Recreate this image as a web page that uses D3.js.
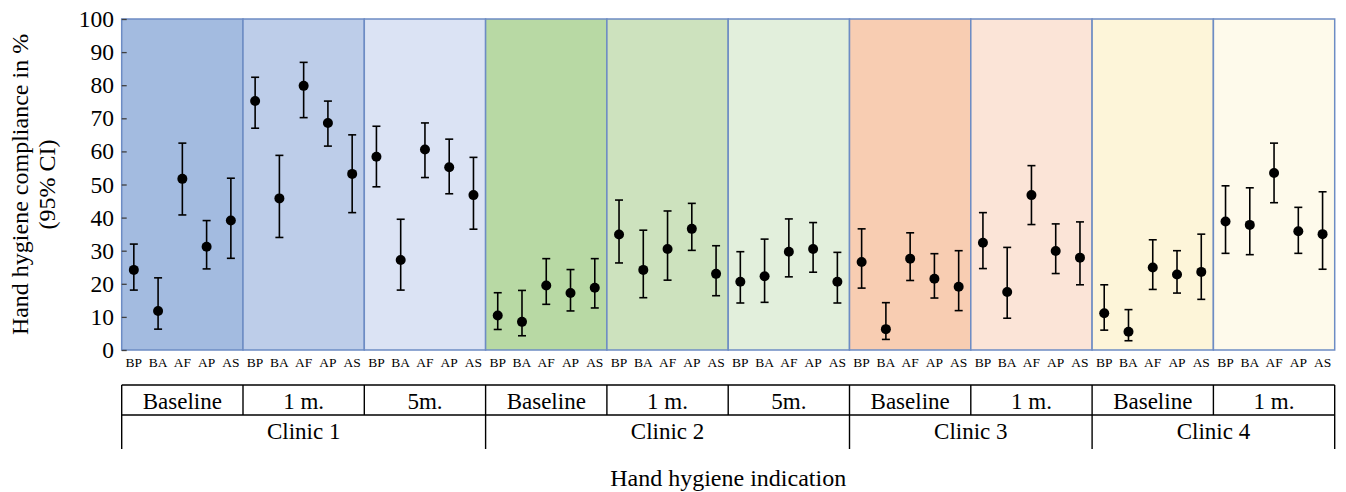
<!DOCTYPE html>
<html>
<head>
<meta charset="utf-8">
<script src="https://cdn.jsdelivr.net/npm/d3@7"></script>
<style>
  html, body { margin: 0; padding: 0; background: #fff; }
  svg { display: block; }
  text { font-family: "Liberation Serif", "Times New Roman", serif; fill: #000; }
</style>
</head>
<body>
<svg id="chart" width="1346" height="492"></svg>
<script>
// ---- data ----
const indications = ["BP", "BA", "AF", "AP", "AS"];
const periods = ["Baseline", "1 m.", "5m.", "Baseline", "1 m.", "5m.", "Baseline", "1 m.", "Baseline", "1 m."];
const clinics = ["Clinic 1", "Clinic 2", "Clinic 3", "Clinic 4"];
const periodsPerClinic = [3, 3, 2, 2];
const panelColors = ["#a3bbe0", "#bdcde9", "#dbe3f4", "#b8d9a4", "#cde2be", "#e2efdc", "#f8cdb2", "#fbe4d7", "#fdf5d9", "#fefaeb"];
const yTicks = [0, 10, 20, 30, 40, 50, 60, 70, 80, 90, 100];

const compliance = [
  24.2, 11.8, 51.7, 31.2, 39.1,
  75.2, 45.8, 79.8, 68.6, 53.2,
  58.4, 27.2, 60.6, 55.2, 46.8,
  10.4, 8.5, 19.5, 17.2, 18.8,
  34.9, 24.2, 30.5, 36.6, 23.0,
  20.6, 22.3, 29.7, 30.5, 20.6,
  26.6, 6.3, 27.6, 21.5, 19.1,
  32.4, 17.5, 46.8, 29.9, 27.9,
  11.1, 5.5, 24.9, 22.8, 23.6,
  38.8, 37.8, 53.5, 35.9, 35.0
];
const ciLower = [
  18.1, 6.3, 40.8, 24.5, 27.7,
  67.0, 34.0, 70.2, 61.6, 41.5,
  49.3, 18.1, 52.1, 47.2, 36.5,
  6.2, 4.3, 13.8, 11.8, 12.7,
  26.3, 15.8, 21.1, 30.1, 16.4,
  14.2, 14.4, 22.1, 23.5, 14.2,
  18.7, 3.2, 21.0, 15.7, 11.9,
  24.6, 9.6, 37.9, 23.1, 19.7,
  6.0, 2.8, 18.3, 17.2, 15.3,
  29.2, 28.8, 44.5, 29.2, 24.4
];
const ciUpper = [
  32.0, 21.8, 62.5, 39.1, 51.9,
  82.4, 58.8, 86.9, 75.2, 65.0,
  67.6, 39.5, 68.6, 63.7, 58.2,
  17.3, 18.0, 27.6, 24.3, 27.6,
  45.3, 36.2, 42.0, 44.3, 31.5,
  29.7, 33.5, 39.6, 38.5, 29.5,
  36.6, 14.3, 35.4, 29.1, 30.0,
  41.5, 31.0, 55.7, 38.1, 38.7,
  19.7, 12.2, 33.3, 30.0, 35.0,
  49.6, 49.0, 62.5, 43.1, 47.8
];

// ---- layout ----
const pLeft = 121.7, pRight = 1334.7, pTop = 19, pBottom = 350;
const svg = d3.select("#chart");

const keys = [];
periods.forEach((p, pi) => indications.forEach((ind) => keys.push(pi + "-" + ind)));

const x = d3.scaleBand().domain(keys).range([pLeft, pRight]).padding(0);
const y = d3.scaleLinear().domain([0, 100]).range([pBottom, pTop]);
const bw = x.bandwidth();
const panelX = i => x(i + "-" + indications[0]);
const panelW = bw * indications.length;

// panels
svg.append("g").selectAll("rect").data(periods).join("rect")
  .attr("x", (d, i) => panelX(i))
  .attr("y", y(100))
  .attr("width", panelW)
  .attr("height", y(0) - y(100))
  .attr("fill", (d, i) => panelColors[i])
  .attr("stroke", "#6d8cc4")
  .attr("stroke-width", 1.5);

// y axis
const yAxis = d3.axisRight(y).tickValues(yTicks).tickSize(5).tickFormat("");
const ya = svg.append("g").attr("transform", `translate(${pLeft},0)`).call(yAxis);
ya.select(".domain").remove();
ya.selectAll(".tick line").attr("stroke", "#404040").attr("stroke-width", 1.3);
svg.append("g").selectAll("text").data(yTicks).join("text")
  .attr("x", 114).attr("y", d => y(d))
  .attr("text-anchor", "end").attr("dominant-baseline", "central")
  .style("font-size", "23.5px")
  .text(d => d);

// y title
const yt = svg.append("text")
  .attr("transform", `translate(20,${(pTop + pBottom) / 2}) rotate(-90)`)
  .attr("text-anchor", "middle").attr("dominant-baseline", "central")
  .style("font-size", "24px");
yt.append("tspan").attr("x", 0).attr("dy", 0).text("Hand hygiene compliance in %");
yt.append("tspan").attr("x", 0).attr("dy", 27).text("(95% CI)");

// category labels
svg.append("g").selectAll("text").data(keys).join("text")
  .attr("x", d => x(d) + bw / 2).attr("y", 362)
  .attr("text-anchor", "middle").attr("dominant-baseline", "central")
  .style("font-size", "13.5px")
  .text(d => d.split("-")[1]);

// error bars and points
const pts = keys.map((k, i) => ({ k, v: compliance[i], lo: ciLower[i], hi: ciUpper[i] }));
const eb = svg.append("g").attr("stroke", "#000").attr("stroke-width", 1.6);
eb.selectAll("line.v").data(pts).join("line").attr("class", "v")
  .attr("x1", d => x(d.k) + bw / 2).attr("x2", d => x(d.k) + bw / 2)
  .attr("y1", d => y(d.lo)).attr("y2", d => y(d.hi));
eb.selectAll("line.t").data(pts).join("line").attr("class", "t")
  .attr("x1", d => x(d.k) + bw / 2 - 4).attr("x2", d => x(d.k) + bw / 2 + 4)
  .attr("y1", d => y(d.hi)).attr("y2", d => y(d.hi));
eb.selectAll("line.b").data(pts).join("line").attr("class", "b")
  .attr("x1", d => x(d.k) + bw / 2 - 4).attr("x2", d => x(d.k) + bw / 2 + 4)
  .attr("y1", d => y(d.lo)).attr("y2", d => y(d.lo));
svg.append("g").selectAll("circle").data(pts).join("circle")
  .attr("cx", d => x(d.k) + bw / 2).attr("cy", d => y(d.v))
  .attr("r", 5).attr("fill", "#000");

// table
const t1 = 385, t2 = 415, t3 = 449;
const tbl = svg.append("g").attr("stroke", "#000").attr("stroke-width", 1.4);
tbl.append("line").attr("x1", pLeft).attr("x2", pRight).attr("y1", t1).attr("y2", t1);
tbl.append("line").attr("x1", pLeft).attr("x2", pRight).attr("y1", t2).attr("y2", t2);
const periodEdges = d3.range(periods.length + 1).map(i => i < periods.length ? panelX(i) : pRight);
tbl.selectAll("line.pe").data(periodEdges).join("line").attr("class", "pe")
  .attr("x1", d => d).attr("x2", d => d).attr("y1", t1).attr("y2", t2);
const clinicStart = [];
let acc = 0;
periodsPerClinic.forEach(n => { clinicStart.push(acc); acc += n; });
const clinicEdges = clinicStart.map(s => panelX(s)).concat([pRight]);
tbl.selectAll("line.ce").data(clinicEdges).join("line").attr("class", "ce")
  .attr("x1", d => d).attr("x2", d => d).attr("y1", t2).attr("y2", t3);

svg.append("g").selectAll("text").data(periods).join("text")
  .attr("x", (d, i) => panelX(i) + panelW / 2).attr("y", (t1 + t2) / 2 + 1)
  .attr("text-anchor", "middle").attr("dominant-baseline", "central")
  .style("font-size", "23px").text(d => d);

svg.append("g").selectAll("text").data(clinics).join("text")
  .attr("x", (d, i) => (clinicEdges[i] + clinicEdges[i + 1]) / 2).attr("y", (t2 + t3) / 2 - 1)
  .attr("text-anchor", "middle").attr("dominant-baseline", "central")
  .style("font-size", "23px").text(d => d);

// x title
svg.append("text")
  .attr("x", (pLeft + pRight) / 2).attr("y", 478)
  .attr("text-anchor", "middle").attr("dominant-baseline", "central")
  .style("font-size", "24px").text("Hand hygiene indication");
</script>
</body>
</html>
